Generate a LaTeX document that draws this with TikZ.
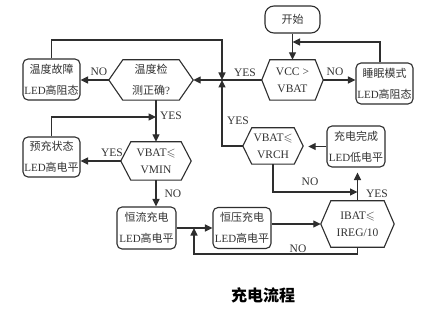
\documentclass[tikz,border=0pt]{standalone}
\usepackage{fontspec}
\usepackage{amssymb}
\setmainfont{Liberation Serif}
\newfontfamily\cjk{Noto Sans CJK SC}
\usetikzlibrary{arrows.meta,calc}
\newcommand{\zh}[1]{{\cjk #1}}
\definecolor{lc}{HTML}{2E2E2E}
\definecolor{tc}{HTML}{333333}
\newcommand{\hexdraw}[2]{\draw[ln] (#1.west) -- ([xshift=#2]#1.north west) -- ([xshift=-#2]#1.north east) -- (#1.east) -- ([xshift=-#2]#1.south east) -- ([xshift=#2]#1.south west) -- cycle;}
\begin{document}
\begin{tikzpicture}[x=1pt,y=-1pt,
  ln/.style={draw=lc, line width=1.1pt},
  arr/.style={ln, -{Triangle[length=7.5pt,width=7pt]}},
  box/.style={draw=lc, line width=1.1pt, rounded corners=5pt, align=center, inner sep=0pt,
    text=tc, font=\fontsize{11}{21}\selectfont},
  hexa/.style={rectangle, inner sep=0pt, align=center, text=tc},
  zhtxt/.style={font=\fontsize{11}{21}\selectfont},
  entxt/.style={font=\fontsize{11.5}{17}\selectfont},
  lbl/.style={text=tc, inner sep=0pt, font=\fontsize{11.5}{13}\selectfont}]
\useasboundingbox (0,0) rectangle (442,310);
\fill[white] (0,0) rectangle (442,310);

% nodes
\node[box, rounded corners=9pt, minimum width=55pt, minimum height=27pt] (start) at (292.5,19.5) {\zh{开始}};
\node[hexa, entxt, minimum width=61pt, minimum height=40pt] (vcc) at (292.5,80) {VCC >\\VBAT};
\hexdraw{vcc}{8pt}
\node[box, minimum width=57pt, minimum height=41pt] (sleep) at (384.5,83.5) {\zh{睡眠模式}\\LED\zh{高阻态}};
\node[hexa, zhtxt, minimum width=84pt, minimum height=40pt] (temp) at (151,80) {\zh{温度检}\\\zh{测正确}?};
\hexdraw{temp}{14pt}
\node[box, minimum width=57pt, minimum height=41pt] (fault) at (51.5,79.5) {\zh{温度故障}\\LED\zh{高阻态}};
\node[hexa, entxt, minimum width=70pt, minimum height=38pt] (vmin) at (156,161) {VBAT$\leqslant$\\VMIN};
\hexdraw{vmin}{10pt}
\node[box, minimum width=57pt, minimum height=40pt] (pre) at (51.5,157) {\zh{预充状态}\\LED\zh{高电平}};
\node[box, minimum width=59pt, minimum height=42pt] (cc) at (146.5,228) {\zh{恒流充电}\\LED\zh{高电平}};
\node[box, minimum width=58pt, minimum height=41pt] (cv) at (242,228) {\zh{恒压充电}\\LED\zh{高电平}};
\node[hexa, entxt, minimum width=73pt, minimum height=46pt] (ibat) at (357.5,224) {IBAT$\leqslant$\\IREG/10};
\hexdraw{ibat}{10pt}
\node[box, minimum width=58pt, minimum height=41pt] (done) at (356,146.5) {\zh{充电完成}\\LED\zh{低电平}};
\node[hexa, entxt, minimum width=60pt, minimum height=36pt] (vrch) at (273,146) {VBAT$\leqslant$\\VRCH};
\hexdraw{vrch}{9pt}

% junction coordinates
\coordinate (J) at (222,80);
\coordinate (tl) at (222,40);
\coordinate (sl) at (292.5,42);
\coordinate (pj) at (156,117);
\coordinate (J2) at (194,228);
\coordinate (b2) at (357.5,254);
\coordinate (nj) at (357.5,192);

% connectors
\draw[arr] (start.south) -- (vcc.north);
\draw[arr] (vcc.east) -- (vcc.east -| sleep.west);
\draw[arr] ([xshift=-4.5pt]sleep.north) |- (sl);
\draw[ln] (vcc.west) -- (J);
\draw[arr] (J) -- (temp.east);
\draw[arr] (fault.north) |- (tl) -- (J);
\draw[arr] (vrch.west) -| (J);
\draw[arr] (temp.west) -- (temp.west -| fault.east);
\draw[arr] (temp.south -| vmin.north) -- (vmin.north);
\draw[arr] (pre.north) |- (pj);
\draw[arr] (vmin.west) -- (vmin.west -| pre.east);
\draw[arr] (vmin.south) -- (vmin.south |- cc.north);
\draw[arr] (cc.east) -- (cv.west);
\draw[arr] (ibat.south) -- (b2) -| (J2);
\draw[arr] (cv.east |- ibat.west) -- (ibat.west);
\draw[arr, shorten >=5pt] (ibat.north) -- (ibat.north |- done.south);
\draw[arr, shorten >=5pt] (done.west) -- (done.west -| vrch.east);
\draw[arr] (vrch.south) |- (nj);

% labels
\node[lbl] (l1) at (99,72) {NO};
\node[lbl] (l2) at (245,73) {YES};
\node[lbl] (l3) at (335,72) {NO};
\node[lbl] (l4) at (238,121) {YES};
\node[lbl] (l5) at (171,116) {YES};
\node[lbl] (l6) at (112,153) {YES};
\node[lbl] (l7) at (173,194) {NO};
\node[lbl] (l8) at (310,182) {NO};
\node[lbl] (l9) at (377,194) {YES};
\node[lbl] (l10) at (298,249) {NO};

% caption
\node[inner sep=0pt, font=\cjk\bfseries\fontsize{16}{18}\selectfont, text=black] (cap) at (263,295) {充电流程};
\end{tikzpicture}
\end{document}
